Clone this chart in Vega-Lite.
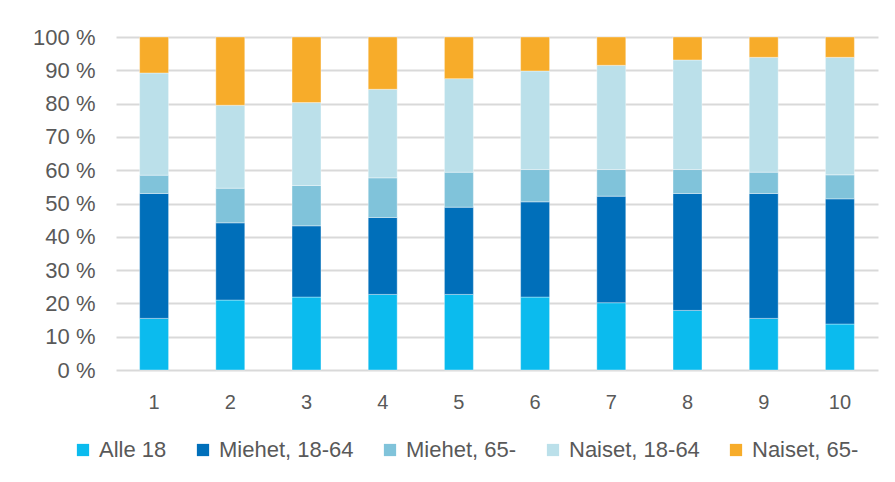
{
  "$schema": "https://vega.github.io/schema/vega-lite/v6.json",
  "autosize": {"type": "none"},
  "width": 762,
  "height": 333,
  "padding": {"left": 116, "top": 37, "right": 17, "bottom": 112},
  "background": "white",
  "config": {
    "view": {"stroke": null},
    "font": "Liberation Sans"
  },
  "data": {
    "values": [
      {"g": "1", "s": "Alle 18", "v": 15.5}, {"g": "1", "s": "Miehet, 18-64", "v": 37.5}, {"g": "1", "s": "Miehet, 65-", "v": 5.5}, {"g": "1", "s": "Naiset, 18-64", "v": 30.7}, {"g": "1", "s": "Naiset, 65-", "v": 10.8},
      {"g": "2", "s": "Alle 18", "v": 21.0}, {"g": "2", "s": "Miehet, 18-64", "v": 23.2}, {"g": "2", "s": "Miehet, 65-", "v": 10.4}, {"g": "2", "s": "Naiset, 18-64", "v": 24.9}, {"g": "2", "s": "Naiset, 65-", "v": 20.5},
      {"g": "3", "s": "Alle 18", "v": 21.9}, {"g": "3", "s": "Miehet, 18-64", "v": 21.4}, {"g": "3", "s": "Miehet, 65-", "v": 12.1}, {"g": "3", "s": "Naiset, 18-64", "v": 24.9}, {"g": "3", "s": "Naiset, 65-", "v": 19.7},
      {"g": "4", "s": "Alle 18", "v": 22.7}, {"g": "4", "s": "Miehet, 18-64", "v": 23.1}, {"g": "4", "s": "Miehet, 65-", "v": 11.9}, {"g": "4", "s": "Naiset, 18-64", "v": 26.6}, {"g": "4", "s": "Naiset, 65-", "v": 15.7},
      {"g": "5", "s": "Alle 18", "v": 22.7}, {"g": "5", "s": "Miehet, 18-64", "v": 26.2}, {"g": "5", "s": "Miehet, 65-", "v": 10.5}, {"g": "5", "s": "Naiset, 18-64", "v": 28.1}, {"g": "5", "s": "Naiset, 65-", "v": 12.5},
      {"g": "6", "s": "Alle 18", "v": 21.9}, {"g": "6", "s": "Miehet, 18-64", "v": 28.6}, {"g": "6", "s": "Miehet, 65-", "v": 9.7}, {"g": "6", "s": "Naiset, 18-64", "v": 29.6}, {"g": "6", "s": "Naiset, 65-", "v": 10.2},
      {"g": "7", "s": "Alle 18", "v": 20.2}, {"g": "7", "s": "Miehet, 18-64", "v": 32.0}, {"g": "7", "s": "Miehet, 65-", "v": 8.0}, {"g": "7", "s": "Naiset, 18-64", "v": 31.3}, {"g": "7", "s": "Naiset, 65-", "v": 8.5},
      {"g": "8", "s": "Alle 18", "v": 17.9}, {"g": "8", "s": "Miehet, 18-64", "v": 35.1}, {"g": "8", "s": "Miehet, 65-", "v": 7.2}, {"g": "8", "s": "Naiset, 18-64", "v": 32.9}, {"g": "8", "s": "Naiset, 65-", "v": 6.9},
      {"g": "9", "s": "Alle 18", "v": 15.5}, {"g": "9", "s": "Miehet, 18-64", "v": 37.5}, {"g": "9", "s": "Miehet, 65-", "v": 6.4}, {"g": "9", "s": "Naiset, 18-64", "v": 34.5}, {"g": "9", "s": "Naiset, 65-", "v": 6.1},
      {"g": "10", "s": "Alle 18", "v": 13.8}, {"g": "10", "s": "Miehet, 18-64", "v": 37.6}, {"g": "10", "s": "Miehet, 65-", "v": 7.2}, {"g": "10", "s": "Naiset, 18-64", "v": 35.3}, {"g": "10", "s": "Naiset, 65-", "v": 6.1}
    ]
  },
  "mark": {"type": "bar", "stroke": "white", "strokeWidth": 0.6, "strokeOpacity": 0.6},
  "encoding": {
    "x": {
      "field": "g",
      "type": "ordinal",
      "sort": ["1", "2", "3", "4", "5", "6", "7", "8", "9", "10"],
      "scale": {"paddingInner": 0.62, "paddingOuter": 0.31},
      "axis": {
        "title": null,
        "labelAngle": 0,
        "domain": false,
        "ticks": false,
        "labelPadding": 22,
        "labelFontSize": 20,
        "labelColor": "#595959",
        "labelFont": "Liberation Sans"
      }
    },
    "y": {
      "field": "v",
      "type": "quantitative",
      "stack": "zero",
      "scale": {"domain": [0, 100], "nice": false},
      "axis": {
        "title": null,
        "values": [0, 10, 20, 30, 40, 50, 60, 70, 80, 90, 100],
        "labelExpr": "datum.value + ' %'",
        "domain": false,
        "ticks": false,
        "labelPadding": 21,
        "labelFontSize": 22,
        "labelColor": "#595959",
        "labelFont": "Liberation Sans",
        "gridColor": "#D9D9D9",
        "gridWidth": 2
      }
    },
    "order": {"field": "s", "sort": "ascending"},
    "color": {
      "field": "s",
      "type": "nominal",
      "scale": {
        "domain": ["Alle 18", "Miehet, 18-64", "Miehet, 65-", "Naiset, 18-64", "Naiset, 65-"],
        "range": ["#0BBBEE", "#006FBA", "#80C3DA", "#BBE0EA", "#F7AC2A"]
      },
      "legend": {
        "title": null,
        "orient": "none",
        "direction": "horizontal",
        "legendX": -44,
        "legendY": 402,
        "symbolType": "square",
        "symbolSize": 150,
        "symbolStrokeWidth": 0,
        "labelFontSize": 22,
        "labelColor": "#595959",
        "labelFont": "Liberation Sans",
        "labelOffset": 5,
        "columnPadding": 25
      }
    }
  }
}
